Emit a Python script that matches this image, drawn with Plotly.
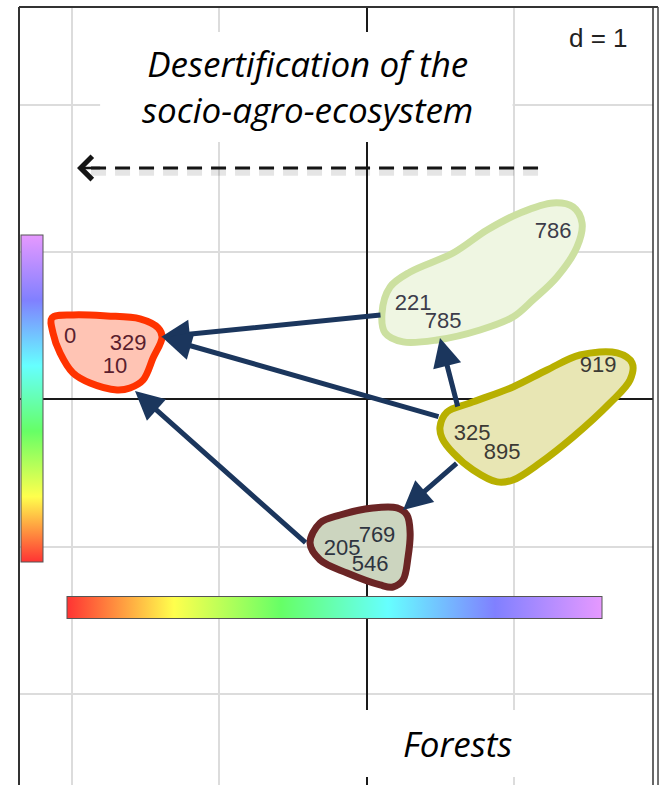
import plotly.graph_objects as go

# ---- group outlines (data units, grid step d = 1) ----
red_x = [-1.763, -1.539, -1.416, -1.389, -1.450, -1.518, -1.607, -1.695, -1.878, -1.994, -2.082, -2.130, -2.137, -1.994]
red_y = [0.567, 0.547, 0.486, 0.425, 0.282, 0.132, 0.078, 0.065, 0.112, 0.180, 0.316, 0.452, 0.554, 0.574]

green_x = [0.819, 1.043, 1.267, 1.403, 1.464, 1.430, 1.294, 1.131, 0.995, 0.771, 0.479, 0.248, 0.126, 0.105, 0.160, 0.296, 0.588]
green_y = [1.151, 1.267, 1.335, 1.308, 1.199, 1.036, 0.832, 0.676, 0.560, 0.472, 0.404, 0.391, 0.452, 0.588, 0.764, 0.866, 0.995]

olive_x = [1.226, 1.450, 1.702, 1.804, 1.790, 1.654, 1.403, 1.179, 0.995, 0.887, 0.724, 0.588, 0.513, 0.499, 0.547, 0.703, 0.995]
olive_y = [0.200, 0.302, 0.316, 0.248, 0.132, -0.024, -0.255, -0.431, -0.547, -0.560, -0.479, -0.363, -0.262, -0.187, -0.085, -0.024, 0.085]

brown_x = [0.044, 0.207, 0.275, 0.296, 0.282, 0.248, 0.180, 0.092, -0.132, -0.316, -0.384, -0.316, -0.180]
brown_y = [-0.737, -0.737, -0.785, -0.907, -1.070, -1.226, -1.274, -1.260, -1.179, -1.090, -0.975, -0.839, -0.785]

# ---- site labels ----
red_labels = ["0", "329", "10"]
red_lx = [-2.014, -1.620, -1.709]
red_ly = [0.418, 0.370, 0.214]

green_labels = ["221", "785", "786"]
green_lx = [0.316, 0.520, 1.267]
green_ly = [0.642, 0.520, 1.131]

olive_labels = ["325", "895", "919"]
olive_lx = [0.717, 0.921, 1.573]
olive_ly = [-0.241, -0.370, 0.221]

brown_labels = ["205", "769", "546"]
brown_lx = [-0.166, 0.071, 0.024]
brown_ly = [-1.022, -0.934, -1.131]

# ---- trajectories between groups: tail -> tip ----
arrow_x0 = [0.105, 0.499, -0.404, 0.622, 0.622]
arrow_y0 = [0.574, -0.119, -0.982, -0.058, -0.425]
arrow_x1 = [-1.396, -1.382, -1.573, 0.499, 0.248]
arrow_y1 = [0.425, 0.418, 0.058, 0.418, -0.751]

# desertification direction (dashed)
trend_x = [1.165, -1.93]
trend_y = [1.573, 1.573]

rainbow = [[0.0, "#FF3333"], [0.2, "#FFFF4D"], [0.4, "#66FF66"],
           [0.6, "#66FFFF"], [0.8, "#8080FF"], [1.0, "#E699FF"]]

groups = [
    (red_x, red_y, "#FF3300", "#FFC4B4", red_labels, red_lx, red_ly, "#5A1E2E"),
    (green_x, green_y, "#CCE0A0", "#EFF6E2", green_labels, green_lx, green_ly, "#3C3C4A"),
    (olive_x, olive_y, "#B8B000", "#E8E6B4", olive_labels, olive_lx, olive_ly, "#3C3A34"),
    (brown_x, brown_y, "#6B2525", "#CCD5BF", brown_labels, brown_lx, brown_ly, "#2E3440"),
]

fig = go.Figure()

# colour legends (vertical and horizontal rainbow bars), placed on the plot area
for cb in [
    dict(orientation="v", thickness=22, len=327, lenmode="pixels",
         x=2 / 634, xref="paper", xanchor="left",
         y=386.5 / 778, yref="paper", yanchor="middle"),
    dict(orientation="h", thickness=22, len=535, lenmode="pixels",
         x=315.5 / 634, xref="paper", xanchor="center",
         y=177 / 778, yref="paper", yanchor="middle"),
]:
    cb.update(xpad=0, ypad=0, outlinewidth=1, outlinecolor="#555555",
              borderwidth=0, showticklabels=False, ticks="")
    fig.add_trace(go.Scatter(
        x=[0], y=[0], mode="markers", hoverinfo="skip", showlegend=False,
        marker=dict(size=1, opacity=0, color=[0.5], colorscale=rainbow,
                    cmin=0, cmax=1, showscale=True, colorbar=cb)))

# group envelopes and their labels
for gx, gy, lc, fc, names, lx, ly, tc in groups:
    fig.add_trace(go.Scatter(
        x=gx + gx[:1], y=gy + gy[:1], mode="lines", fill="toself",
        fillcolor=fc, line=dict(color=lc, width=7, shape="spline", smoothing=1.0),
        hoverinfo="skip", showlegend=False))
    fig.add_trace(go.Scatter(
        x=lx, y=ly, mode="text", text=names, textposition="middle center",
        textfont=dict(family="Liberation Sans, Arial", size=22, color=tc),
        hoverinfo="skip", showlegend=False))

# dashed trend line with a soft shadow
fig.add_trace(go.Scatter(
    x=trend_x, y=[v - 0.03 for v in trend_y], mode="lines",
    line=dict(color="rgba(0,0,0,0.10)", width=7, dash="15px,9px"),
    hoverinfo="skip", showlegend=False))
fig.add_trace(go.Scatter(
    x=trend_x, y=trend_y, mode="lines",
    line=dict(color="#151515", width=3, dash="15px,9px"),
    hoverinfo="skip", showlegend=False))

annotations = []
# open head of the trend arrow
annotations.append(dict(
    x=-1.967, y=trend_y[1], ax=-1.80, ay=trend_y[1],
    xref="x", yref="y", axref="x", ayref="y", text="", showarrow=True,
    arrowhead=4, arrowwidth=2.5, arrowsize=1.8, arrowcolor="#151515", standoff=0))

for x0, y0, x1, y1 in zip(arrow_x0, arrow_y0, arrow_x1, arrow_y1):
    annotations.append(dict(
        x=x1, y=y1, ax=x0, ay=y0, xref="x", yref="y", axref="x", ayref="y",
        text="", showarrow=True, arrowhead=2, arrowsize=1.15, arrowwidth=5,
        arrowcolor="#1B365D", standoff=0))

title_font = dict(family="Open Sans", size=35, color="#000000", style="italic")
annotations += [
    dict(x=-0.404, y=2.126, xref="x", yref="y", showarrow=False,
         text="Desertification of the<br>socio-agro-ecosystem", font=title_font),
    dict(x=0.615, y=-2.34, xref="x", yref="y", showarrow=False, text="Forests",
         font=title_font),
    dict(x=1.573, y=2.456, xref="x", yref="y", showarrow=False, text="d = 1",
         font=dict(family="Liberation Sans, Arial", size=26, color="#222222")),
]

shapes = [
    # white label boxes over the grid
    dict(type="rect", xref="x", yref="y", x0=-1.810, x1=0.992, y0=1.749, y1=2.497,
         fillcolor="white", line=dict(width=0), layer="above"),
    dict(type="rect", xref="x", yref="y", x0=-0.112, x1=1.349, y0=-2.565, y1=-2.109,
         fillcolor="white", line=dict(width=0), layer="above"),
    # panel frame
    dict(type="line", xref="paper", yref="paper", x0=0, x1=0, y0=0, y1=1,
         line=dict(color="#333333", width=2), layer="above"),
    dict(type="line", xref="paper", yref="paper", x0=0, x1=1.0079, y0=1, y1=1,
         line=dict(color="#333333", width=2), layer="above"),
    dict(type="line", xref="paper", yref="paper", x0=1, x1=1, y0=0, y1=1,
         line=dict(color="#333333", width=1.5), layer="above"),
    dict(type="line", xref="paper", yref="paper", x0=1.0079, x1=1.0079, y0=0, y1=1,
         line=dict(color="#444444", width=1.5), layer="above"),
]

axis_common = dict(dtick=1, tick0=0, showgrid=True, gridcolor="#DCDCDC", gridwidth=2,
                   zeroline=True, zerolinecolor="#1A1A1A", zerolinewidth=1.5,
                   showticklabels=False, ticks="", showline=False, fixedrange=True)

fig.update_layout(
    width=659, height=785,
    margin=dict(l=19, r=6, t=7, b=0, pad=0, autoexpand=False),
    paper_bgcolor="white", plot_bgcolor="white",
    xaxis=dict(range=[-2.361, 1.946], **axis_common),
    yaxis=dict(range=[-2.619, 2.666], **axis_common),
    annotations=annotations, shapes=shapes, showlegend=False,
)

fig.write_html("out.html")
